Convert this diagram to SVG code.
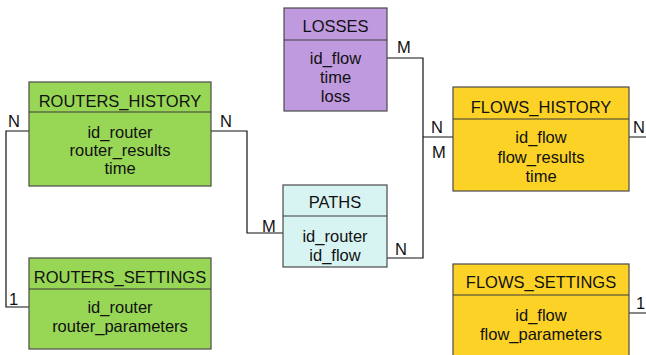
<svg xmlns="http://www.w3.org/2000/svg" width="646" height="355" viewBox="0 0 646 355">
<style>
text{font-family:"Liberation Sans",Arial,sans-serif;font-size:16.5px;fill:#111;}
.c{text-anchor:middle;}
.box{stroke:#4a4a4a;stroke-width:1.2;}
.div{stroke:#3a3a3a;stroke-width:1.2;}
.ln{fill:none;stroke:#111;stroke-width:1.2;}
</style>
<rect width="646" height="355" fill="#fff"/>
<g id="connectors">
<polyline class="ln" points="73,131 6,131 6,307 73,307"/>
<polyline class="ln" points="169,131 247,131 247,233 293,233"/>
<polyline class="ln" points="370,58 423,58 423,258 368,258"/>
<polyline class="ln" points="423,137 497,137"/>
<polyline class="ln" points="585,137 646,137"/>
<polyline class="ln" points="586,313 646,313"/>
<text x="8" y="127">N</text>
<text x="220" y="127">N</text>
<text x="9" y="305">1</text>
<text x="397" y="53">M</text>
<text x="262" y="232">M</text>
<text x="395" y="255">N</text>
<text x="431" y="133">N</text>
<text x="432" y="158">M</text>
<text x="633" y="133">N</text>
<text x="636" y="309">1</text>
</g>
<g id="losses">
<rect class="box" x="284" y="8" width="103" height="103" fill="#c09ade"/>
<line class="div" x1="284" y1="40" x2="387" y2="40"/>
<text class="c" x="335.5" y="32">LOSSES</text>
<text class="c" x="335.5" y="64">id_flow</text>
<text class="c" x="335.5" y="83">time</text>
<text class="c" x="335.5" y="102">loss</text>
</g>
<g id="routers_history">
<rect class="box" x="29" y="82" width="182" height="104" fill="#98d656"/>
<line class="div" x1="29" y1="112" x2="211" y2="112"/>
<text class="c" x="120" y="107">ROUTERS_HISTORY</text>
<text class="c" x="120" y="138">id_router</text>
<text class="c" x="120" y="156">router_results</text>
<text class="c" x="120" y="174">time</text>
</g>
<g id="routers_settings">
<rect class="box" x="29" y="258" width="182" height="91" fill="#98d656"/>
<line class="div" x1="29" y1="289" x2="211" y2="289"/>
<text class="c" x="120" y="283">ROUTERS_SETTINGS</text>
<text class="c" x="120" y="313">id_router</text>
<text class="c" x="120" y="332">router_parameters</text>
</g>
<g id="paths">
<rect class="box" x="283" y="185" width="104" height="82" fill="#d8f4f2"/>
<line class="div" x1="283" y1="216" x2="387" y2="216"/>
<text class="c" x="335" y="208">PATHS</text>
<text class="c" x="335" y="242">id_router</text>
<text class="c" x="335" y="261">id_flow</text>
</g>
<g id="flows_history">
<rect class="box" x="453" y="87" width="176" height="104" fill="#fcd226"/>
<line class="div" x1="453" y1="119" x2="629" y2="119"/>
<text class="c" x="541" y="113">FLOWS_HISTORY</text>
<text class="c" x="541" y="143">id_flow</text>
<text class="c" x="541" y="163">flow_results</text>
<text class="c" x="541" y="182">time</text>
</g>
<g id="flows_settings">
<rect class="box" x="453" y="264" width="176" height="100" fill="#fcd226"/>
<line class="div" x1="453" y1="295" x2="629" y2="295"/>
<text class="c" x="541" y="288">FLOWS_SETTINGS</text>
<text class="c" x="541" y="321">id_flow</text>
<text class="c" x="541" y="340">flow_parameters</text>
</g>
</svg>
